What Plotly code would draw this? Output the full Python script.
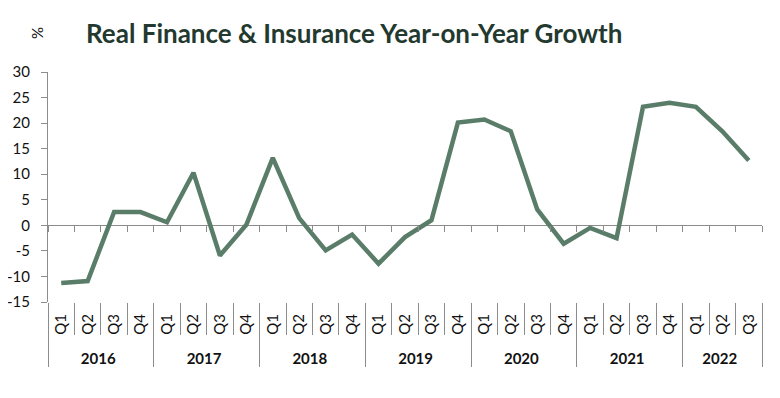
import plotly.graph_objects as go

years = ["2016"] * 4 + ["2017"] * 4 + ["2018"] * 4 + ["2019"] * 4 + ["2020"] * 4 + ["2021"] * 4 + ["2022"] * 3
quarters = ["Q1", "Q2", "Q3", "Q4"] * 6 + ["Q1", "Q2", "Q3"]
growth = [-11.3, -10.9, 2.6, 2.6,
          0.6, 10.3, -5.9, 0.1,
          13.2, 1.4, -4.9, -1.8,
          -7.5, -2.3, 1.0, 20.1,
          20.7, 18.4, 3.1, -3.6,
          -0.5, -2.5, 23.2, 24.0,
          23.2, 18.4, 12.7]
y_ticks = [-15, -10, -5, 0, 5, 10, 15, 20, 25, 30]
y_tick_text = ["-15", "-10", "-5", "0", "5", "10", "15", "20", "25", "30"]

title_text = "Real Finance & Insurance Year-on-Year Growth"
FONT = "Lato"
AX = "#8c8c8c"

year_labels = [f"<b>{y}</b>" for y in years]
quarter_labels = ["\u00a0\u00a0" + q for q in quarters]

fig = go.Figure()
fig.add_trace(go.Scatter(
    x=[year_labels, quarter_labels], y=growth, mode="lines",
    line=dict(color="#5a7d69", width=4.5),
    showlegend=False, hoverinfo="y",
))
# helper trace for the tick axis drawn on the zero line
fig.add_trace(go.Scatter(x=[0], y=[0], xaxis="x2", mode="none", showlegend=False, hoverinfo="skip"))

n = len(growth)
fig.update_layout(
    width=772, height=390,
    margin=dict(l=40, r=18, t=64, b=96),
    paper_bgcolor="white", plot_bgcolor="white",
    font=dict(family=FONT, color="#111111", size=15),
    xaxis=dict(
        type="multicategory", showgrid=False, showline=False, zeroline=False,
        ticks="outside", ticklen=32, tickcolor=AX, tickwidth=1,
        tickangle=-90, tickfont=dict(size=15, family=FONT, color="#111111"),
        showdividers=True, dividercolor=AX, dividerwidth=1,
        range=[-0.5, n - 0.5], automargin=False, ticklabelstandoff=8,
    ),
    xaxis2=dict(
        overlaying="x", anchor="free", position=1/3, side="bottom",
        range=[-0.5, n - 0.5], showgrid=False, zeroline=False,
        showline=False, ticks="outside", ticklen=6, tickcolor=AX,
        tickvals=[i - 0.5 for i in range(n + 1)], showticklabels=False,
        automargin=False,
    ),
    yaxis=dict(
        range=[-15, 30], tickvals=y_ticks, ticktext=y_tick_text, showgrid=False,
        showline=True, linecolor=AX, linewidth=1,
        ticks="outside", ticklen=6, tickcolor=AX,
        zeroline=True, zerolinecolor=AX, zerolinewidth=1,
        tickfont=dict(size=15, family=FONT, color="#111111"),
        ticklabelstandoff=8, automargin=False,
    ),
    annotations=[
        dict(text=f"<b>{title_text}</b>", xref="paper", yref="paper",
             x=(84 - 48) / 714, y=1 + (72 - 33) / 230, xanchor="left", yanchor="middle",
             showarrow=False, font=dict(size=26, family=FONT, color="#23392f")),
        dict(text="%", xref="paper", yref="paper",
             x=(37 - 48) / 714, y=1 + (72 - 33) / 230, xanchor="center", yanchor="middle",
             textangle=-90, showarrow=False, font=dict(size=15, family=FONT, color="#111111")),
    ],
)

fig.write_html("out.html")
